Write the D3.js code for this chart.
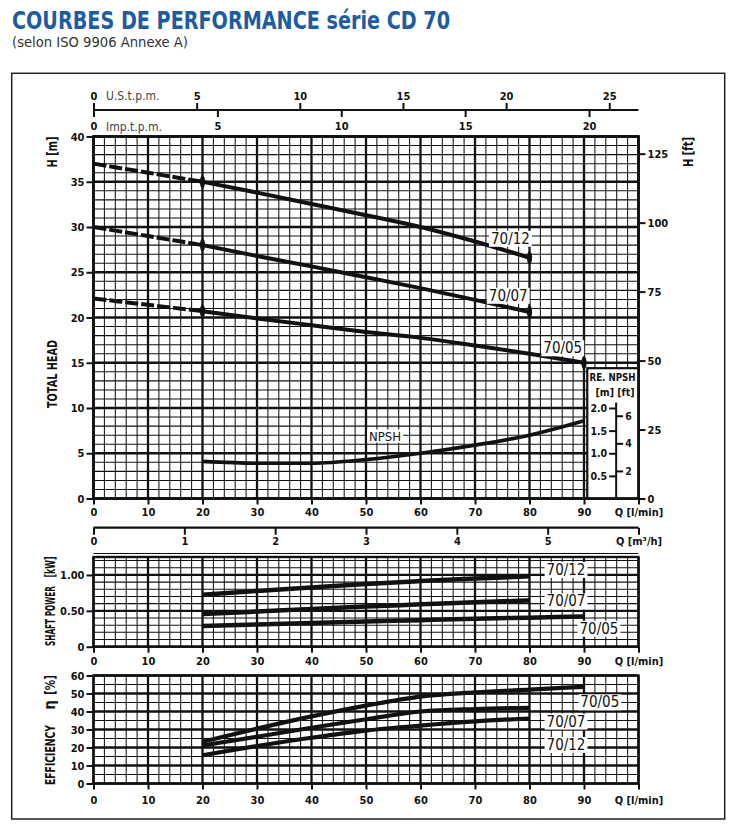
<!DOCTYPE html>
<html>
<head>
<meta charset="utf-8">
<script src="https://cdn.jsdelivr.net/npm/d3@7"></script>
<style>
  body { margin: 0; background: #fff; }
  text { font-family: 'Liberation Sans Narrow', 'DejaVu Sans Condensed', 'Arial Narrow', sans-serif; }
</style>
</head>
<body>
<script>
// ---- data ----
const headFlow = [0, 10, 20, 30, 40, 50, 60, 70, 80, 90];
const head_70_12 = [37.0, 36.0, 35.0, 33.8, 32.55, 31.3, 30.0, 28.4, 26.6];
const head_70_07 = [30.0, 29.0, 28.0, 26.8, 25.65, 24.45, 23.25, 21.95, 20.6];
const head_70_05 = [22.1, 21.4, 20.7, 19.9, 19.15, 18.4, 17.75, 16.9, 16.0, 15.0];

const npshFlow = [20, 30, 40, 50, 60, 70, 80, 90];
const npsh_m = [0.82, 0.78, 0.78, 0.86, 1.0, 1.18, 1.4, 1.72];

const perfFlow = [20, 30, 40, 50, 60, 70, 80, 90];
const power_70_12 = [0.724, 0.776, 0.826, 0.875, 0.915, 0.95, 0.98];
const power_70_07 = [0.454, 0.49, 0.525, 0.56, 0.59, 0.62, 0.644];
const power_70_05 = [0.29, 0.31, 0.33, 0.35, 0.37, 0.39, 0.405, 0.42];
const eff_70_05 = [23.2, 30.5, 37.3, 43.3, 48.3, 50.6, 52.2, 53.7];
const eff_70_07 = [21.1, 26.0, 31.0, 35.7, 40.0, 41.4, 42.0];
const eff_70_12 = [15.7, 20.8, 25.4, 29.4, 32.2, 34.5, 36.1];

const qTicks = [0, 10, 20, 30, 40, 50, 60, 70, 80, 90];
const headTicks = [0, 5, 10, 15, 20, 25, 30, 35, 40];
const ftTicks = [0, 25, 50, 75, 100, 125];
const usTicks = [0, 5, 10, 15, 20, 25];
const impTicks = [0, 5, 10, 15, 20];
const m3hTicks = [0, 1, 2, 3, 4, 5];
const npshMTicks = [0.5, 1.0, 1.5, 2.0];
const npshFtTicks = [2, 4, 6];
const powerTicks = [0, 0.5, 1.0];
const effTicks = [0, 10, 20, 30, 40, 50, 60];

// ---- layout ----
const W = 736, H = 827;
const L_PER_USG = 3.78541, L_PER_IMPG = 4.54609, FT = 0.3048;

const x = d3.scaleLinear().domain([0, 100]).range([93.5, 638.5]);
const yH = d3.scaleLinear().domain([0, 40]).range([498.5, 136.5]);
const yNpsh = d3.scaleLinear().domain([0, 8]).range(yH.range());
const yNpshFt = d3.scaleLinear().domain([0, 8 / FT]).range(yH.range());
const yFt = d3.scaleLinear().domain([0, 40 / FT]).range(yH.range());
const yP = d3.scaleLinear().domain([0, 1.25]).range([646.7, 557]);
const yE = d3.scaleLinear().domain([0, 60]).range([783.5, 675.5]);
const xUS = d3.scaleLinear().domain([0, 100 / L_PER_USG]).range(x.range());
const xImp = d3.scaleLinear().domain([0, 100 / L_PER_IMPG]).range(x.range());
const xM3h = d3.scaleLinear().domain([0, 6]).range(x.range());

const svg = d3.select('body').append('svg').attr('width', W).attr('height', H);

svg.append('text').attr('x', 12).attr('y', 29)
    .attr('fill', '#1d5ca3').attr('font-size', 24).attr('font-weight', 'bold')
    .attr('textLength', 438).attr('lengthAdjust', 'spacingAndGlyphs')
    .text('COURBES DE PERFORMANCE série CD 70');
svg.append('text').attr('x', 12).attr('y', 47)
    .attr('fill', '#333').attr('font-size', 14)
    .attr('textLength', 176).attr('lengthAdjust', 'spacingAndGlyphs')
    .text('(selon ISO 9906 Annexe A)');

svg.append('rect').attr('x', 11.7).attr('y', 73.3).attr('width', 713).attr('height', 745.7)
    .attr('fill', 'none').attr('stroke', '#222').attr('stroke-width', 1.5);

const grid = (y, yMinor, yMajorEvery, yMax) => {
    const g = svg.append('g');
    const [y0, y1] = [y(0), y(yMax)];
    for (let i = 0; i <= 50; i++) {
        g.append('line').attr('x1', x(i * 2)).attr('x2', x(i * 2)).attr('y1', y0).attr('y2', y1)
            .attr('stroke', '#111').attr('stroke-width', i % 5 === 0 ? 2.3 : 1.05);
    }
    const n = Math.round(yMax / yMinor);
    for (let i = 0; i <= n; i++) {
        const v = i * yMinor;
        g.append('line').attr('x1', x(0)).attr('x2', x(100)).attr('y1', y(v)).attr('y2', y(v))
            .attr('stroke', '#111').attr('stroke-width', i % yMajorEvery === 0 ? 2.3 : 1.05);
    }
    g.append('rect').attr('x', x(0)).attr('y', y1).attr('width', x(100) - x(0)).attr('height', y0 - y1)
        .attr('fill', 'none').attr('stroke', '#111').attr('stroke-width', 2.4);
    return g;
};

const styleAxis = (g, size = 11) => {
    g.select('.domain').remove();
    g.selectAll('.tick line').attr('stroke', '#111').attr('stroke-width', 2);
    g.selectAll('.tick text').attr('fill', '#111').attr('font-size', size).attr('font-weight', 'bold');
};

const qAxis = (yPos, pad) => {
    svg.append('g').attr('transform', `translate(0,${yPos})`)
        .call(d3.axisBottom(x).tickValues([...qTicks, 100]).tickSize(6).tickPadding(pad)
            .tickFormat(d => d === 100 ? 'Q [l/min]' : d))
        .call(styleAxis);
};

const rotLabel = (cx, cy, txt, size, len) => {
    const t = svg.append('text').attr('transform', `translate(${cx},${cy}) rotate(-90)`)
        .attr('text-anchor', 'middle').attr('dominant-baseline', 'central')
        .attr('font-size', size).attr('font-weight', 'bold').attr('fill', '#111').text(txt);
    if (len) t.attr('textLength', len).attr('lengthAdjust', 'spacingAndGlyphs');
};

const tag = (cx, cy, txt, size = 14) => {
    const g = svg.append('g');
    const r = g.append('rect').attr('fill', '#fff');
    const t = g.append('text').attr('x', cx).attr('y', cy).attr('text-anchor', 'middle')
        .attr('dominant-baseline', 'central').attr('font-size', size).attr('fill', '#111').text(txt);
    const b = t.node().getBBox();
    r.attr('x', b.x - 2).attr('y', b.y + 1).attr('width', b.width + 4).attr('height', b.height - 2);
};

const curve = (xs, ys, yScale, w, dash) => svg.append('path')
    .datum(ys.map((v, i) => [xs[i], v]))
    .attr('fill', 'none').attr('stroke', '#111').attr('stroke-width', w)
    .attr('stroke-dasharray', dash || null).attr('stroke-linecap', 'butt')
    .attr('d', d3.line().x(d => x(d[0])).y(d => yScale(d[1])).curve(d3.curveMonotoneX));

const marker = (q, v) => svg.append('ellipse').attr('cx', x(q)).attr('cy', yH(v))
    .attr('rx', 2.6).attr('ry', 6.5).attr('fill', '#111');

// ---- top flow scales ----
svg.append('line').attr('x1', x(0)).attr('x2', x(100)).attr('y1', 110).attr('y2', 110)
    .attr('stroke', '#111').attr('stroke-width', 2.2);
svg.append('g').attr('transform', 'translate(0,110)')
    .call(d3.axisTop(xUS).tickValues(usTicks).tickSize(7).tickPadding(3))
    .call(styleAxis);
svg.append('g').attr('transform', 'translate(0,110)')
    .call(d3.axisBottom(xImp).tickValues(impTicks).tickSize(7).tickPadding(5))
    .call(styleAxis);
svg.append('text').attr('x', 106).attr('y', 99.5).attr('font-size', 12).attr('fill', '#444').text('U.S.t.p.m.');
svg.append('text').attr('x', 106).attr('y', 130.5).attr('font-size', 12).attr('fill', '#444').text('Imp.t.p.m.');

// ---- head chart ----
grid(yH, 1, 5, 40);

// re. NPSH box
const boxX = x(90.6);
svg.append('rect').attr('x', boxX).attr('y', yH(14.4)).attr('width', x(100) - boxX).attr('height', yH(0) - yH(14.4))
    .attr('fill', '#fff').attr('stroke', '#111').attr('stroke-width', 2.2);
svg.append('rect').attr('x', x(0)).attr('y', yH(40)).attr('width', x(100) - x(0)).attr('height', yH(0) - yH(40))
    .attr('fill', 'none').attr('stroke', '#111').attr('stroke-width', 2.4);
const axX = x(95.9);
svg.append('line').attr('x1', axX).attr('x2', axX).attr('y1', yNpsh(2.12)).attr('y2', yH(0))
    .attr('stroke', '#111').attr('stroke-width', 2);
svg.append('g').attr('transform', `translate(${axX},0)`)
    .call(d3.axisLeft(yNpsh).tickValues(npshMTicks).tickSize(7).tickPadding(2).tickFormat(d3.format('.1f')))
    .call(g => styleAxis(g, 10.5));
svg.append('g').attr('transform', `translate(${axX},0)`)
    .call(d3.axisRight(yNpshFt).tickValues(npshFtTicks).tickSize(7).tickPadding(2))
    .call(g => styleAxis(g, 10.5));
svg.append('text').attr('x', 612.5).attr('y', 380.5).attr('text-anchor', 'middle')
    .attr('font-size', 10.5).attr('font-weight', 'bold').attr('fill', '#111')
    .attr('textLength', 46).attr('lengthAdjust', 'spacingAndGlyphs').text('RE. NPSH');
svg.append('text').attr('x', 615).attr('y', 395.5).attr('text-anchor', 'middle')
    .attr('font-size', 10.5).attr('font-weight', 'bold').attr('fill', '#111').text('[m] [ft]');

// head axes
svg.append('g').attr('transform', `translate(${x(0)},0)`)
    .call(d3.axisLeft(yH).tickValues(headTicks).tickSize(7).tickPadding(2))
    .call(styleAxis);
svg.append('g').attr('transform', `translate(${x(100)},0)`)
    .call(d3.axisRight(yFt).tickValues(ftTicks).tickSize(7).tickPadding(2))
    .call(styleAxis);
qAxis(yH(0), 4);

rotLabel(52, 152, 'H [m]', 14, 31);
rotLabel(52, 374, 'TOTAL  HEAD', 14, 68);
rotLabel(688, 152, 'H [ft]', 14, 30);

// head curves: dashed below 20 l/min, solid from 20
[head_70_12, head_70_07, head_70_05].forEach(hs => {
    const xs = headFlow.slice(0, hs.length);
    curve(xs.slice(0, 3), hs.slice(0, 3), yH, 4, '13,3');
    curve(xs.slice(2), hs.slice(2), yH, 4);
    marker(20, hs[2]);
    marker(xs[xs.length - 1], hs[hs.length - 1]);
});
curve(npshFlow, npsh_m, yNpsh, 3.6);

tag(x(76.5), yH(28.7), '70/12', 15);
tag(x(76.1), yH(22.4), '70/07', 15);
tag(x(86.1), yH(16.6), '70/05', 15);
tag(x(53.5), yH(6.9), 'NPSH', 13);

// ---- m3/h scale ----
svg.append('line').attr('x1', x(0)).attr('x2', x(100)).attr('y1', 527.7).attr('y2', 527.7)
    .attr('stroke', '#111').attr('stroke-width', 2.2);
svg.append('g').attr('transform', 'translate(0,527.7)')
    .call(d3.axisBottom(xM3h).tickValues([...m3hTicks, 6]).tickSize(7).tickPadding(3)
        .tickFormat(d => d === 6 ? 'Q [m³/h]' : d))
    .call(styleAxis);

// ---- power chart ----
grid(yP, 0.1, 5, 1.25);
svg.append('g').attr('transform', `translate(${x(0)},0)`)
    .call(d3.axisLeft(yP).tickValues(powerTicks).tickSize(7).tickPadding(2)
        .tickFormat(d => d === 0 ? '0' : d3.format('.2f')(d)))
    .call(styleAxis);
qAxis(yP(0), 5);
rotLabel(50, 616, 'SHAFT POWER', 14, 60);
rotLabel(50, 567, '[kW]', 14, 21);

[power_70_12, power_70_07, power_70_05].forEach(ps => curve(perfFlow.slice(0, ps.length), ps, yP, 4.5));
tag(x(86.7), yP(1.07), '70/12', 15);
tag(x(86.7), yP(0.63), '70/07', 15);
tag(x(92.75), yP(0.25), '70/05', 15);

// ---- efficiency chart ----
grid(yE, 5, 2, 60);
svg.append('g').attr('transform', `translate(${x(0)},0)`)
    .call(d3.axisLeft(yE).tickValues(effTicks).tickSize(7).tickPadding(2))
    .call(styleAxis);
qAxis(yE(0), 6.5);
rotLabel(50, 755, 'EFFICIENCY', 14, 60);
rotLabel(50, 705, 'η', 15);
rotLabel(50, 685, '[%]', 14, 20);

[eff_70_05, eff_70_07, eff_70_12].forEach(es => curve(perfFlow.slice(0, es.length), es, yE, 4.2));
tag(x(92.9), yE(45.1), '70/05', 15);
tag(x(86.7), yE(34.4), '70/07', 15);
tag(x(86.7), yE(21.4), '70/12', 15);
</script>
</body>
</html>
